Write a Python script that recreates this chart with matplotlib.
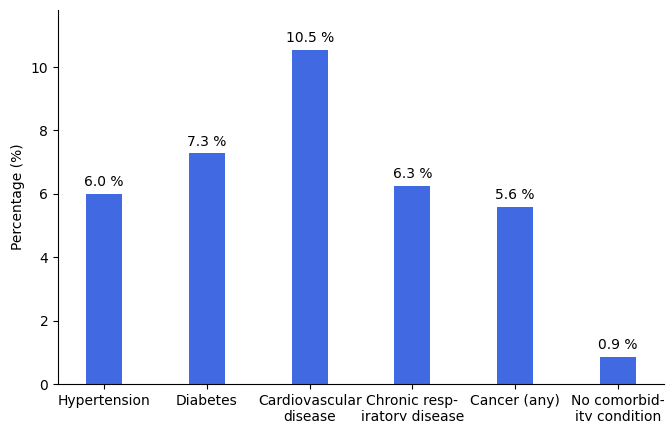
import numpy as np
import matplotlib.pyplot as plt

categories = ['Hypertension', 'Diabetes', 'Cardiovascular\ndisease',
              'Chronic resp-\niratory disease', 'Cancer (any)',
              'No comorbid-\nity condition']
percentages = [6.0, 7.28, 10.53, 6.26, 5.6, 0.86]

fig = plt.figure(figsize=(6.71, 4.21), dpi=100)
ax = fig.add_axes([58 / 671, 37 / 421, 606 / 671, 374 / 421])

x = np.arange(len(categories))
bars = ax.bar(x, percentages, width=0.35, color='royalblue')

for b, v in zip(bars, percentages):
    ax.text(b.get_x() + b.get_width() / 2, v + 0.15, f'{v:.1f} %',
            ha='center', va='bottom', fontsize=10)

ax.set_xticks(x)
ax.set_xticklabels(categories, fontsize=10)
ax.set_xlim(-0.45, 5.45)
ax.set_ylim(0, 11.8)
ax.set_ylabel('Percentage (%)')
ax.spines['top'].set_visible(False)
ax.spines['right'].set_visible(False)

fig.savefig('out.png', dpi=100)
